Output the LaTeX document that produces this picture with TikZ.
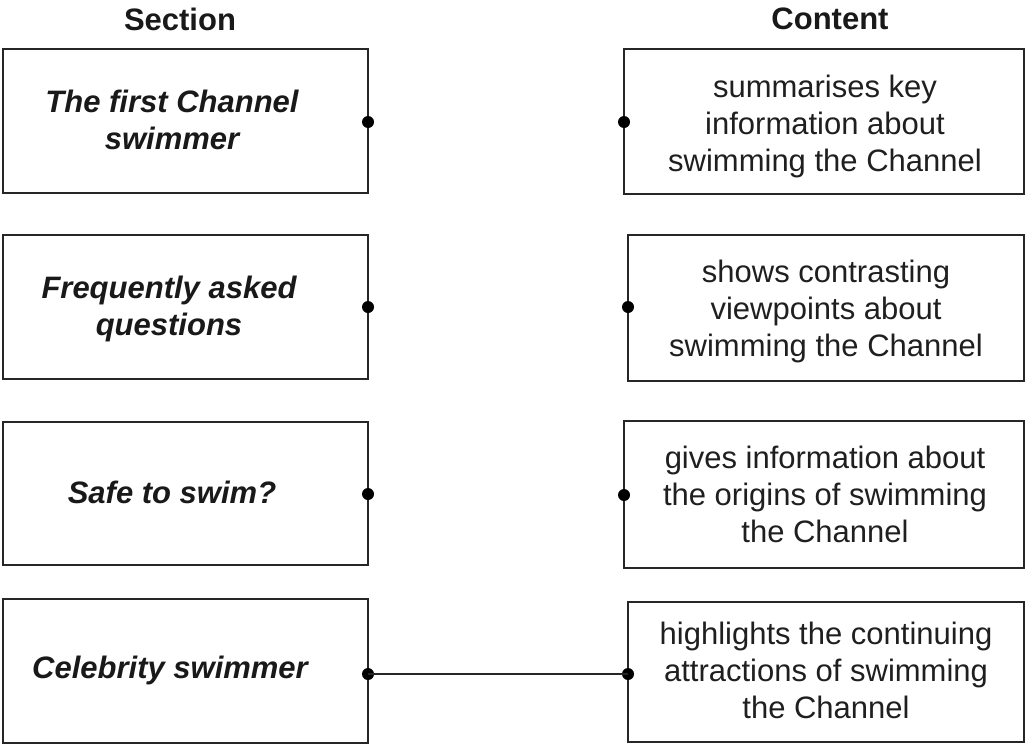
\documentclass[tikz,border=0pt]{standalone}
\usepackage{fontspec}
\setmainfont{Liberation Sans}
\begin{document}
\begin{tikzpicture}[x=0.5pt,y=-0.5pt,
  box/.style={draw=black!85, line width=0.9pt, rectangle, inner sep=0pt},
  sect/.style={font=\fontsize{15.5}{18.5}\selectfont\bfseries\itshape, text=black!90, align=center},
  cont/.style={font=\fontsize{15.5}{18.5}\selectfont, text=black!88, align=center},
  head/.style={font=\fontsize{15.5}{18}\selectfont\bfseries, text=black!90},
  dot/.style={circle, fill=black, inner sep=0pt, minimum size=6pt},
  link/.style={draw=black!85, line width=0.9pt}]
\useasboundingbox (0,0) rectangle (1026,744);
% headers
\node[head] (hs) at (180,19) {Section};
\node[head] (hc) at (830,19) {Content};
% left boxes
\node[box, minimum width=182.5pt, minimum height=72pt] (L1) at (185.5,121) {};
\node[box, minimum width=182.5pt, minimum height=72pt] (L2) at (185.5,307) {};
\node[box, minimum width=182.5pt, minimum height=71.5pt] (L3) at (185.5,493.5) {};
\node[box, minimum width=182.5pt, minimum height=72pt] (L4) at (185.5,671) {};
% right boxes
\node[box, minimum width=200pt, minimum height=72.5pt] (R1) at (824,121.5) {};
\node[box, minimum width=198pt, minimum height=73pt] (R2) at (826,308) {};
\node[box, minimum width=200pt, minimum height=73.5pt] (R3) at (824,494.5) {};
\node[box, minimum width=198pt, minimum height=70pt] (R4) at (826,672) {};
% left texts
\node[sect] (t1) at (172,120) {The first Channel\\swimmer};
\node[sect] (t2) at (169,309) {Frequently asked\\questions};
\node[sect] (t3) at (172,492) {Safe to swim?};
\node[sect] (t4) at (170,670) {Celebrity swimmer};
% right texts
\node[cont] (c1) at (825,126) {summarises key\\information about\\swimming the Channel};
\node[cont] (c2) at (826,311) {shows contrasting\\viewpoints about\\swimming the Channel};
\node[cont] (c3) at (825,494) {gives information about\\the origins of swimming\\the Channel};
\node[cont] (c4) at (826,670) {highlights the continuing\\attractions of swimming\\the Channel};
% dots
\node[dot] (dl1) at (368,122) {};
\node[dot] (dl2) at (368,307) {};
\node[dot] (dl3) at (368,494) {};
\node[dot] (dl4) at (368,674) {};
\node[dot] (dr1) at (624,122) {};
\node[dot] (dr2) at (628,307) {};
\node[dot] (dr3) at (624,495) {};
\node[dot] (dr4) at (628,674) {};
% connector
\draw[link] (dl4.center) -- (dr4.center);
\end{tikzpicture}
\end{document}
